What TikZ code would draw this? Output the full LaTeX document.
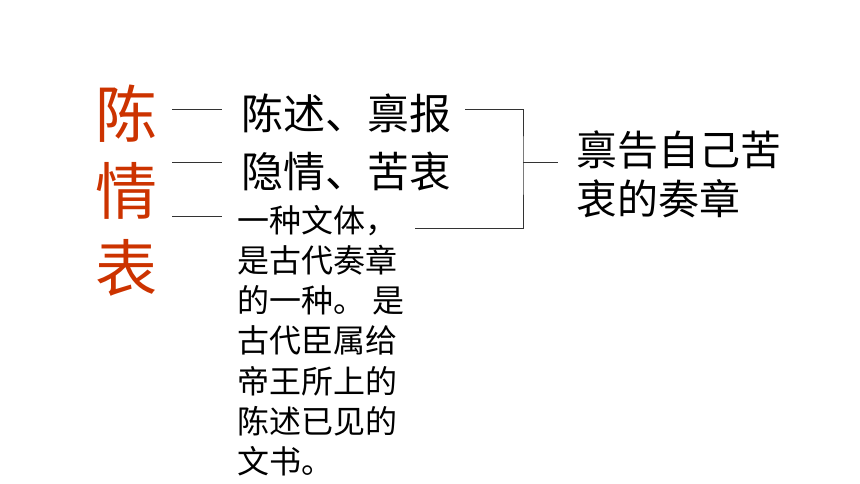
\documentclass[tikz,border=0pt]{standalone}
\usepackage{fontspec}
\setmainfont{Noto Sans CJK SC}
\usepackage{xcolor}
\usetikzlibrary{positioning}
\definecolor{titlered}{RGB}{204,51,0}

\begin{document}
\begin{tikzpicture}[x=1pt,y=-1pt,node distance=77pt,thin,
                    title node/.style={inner sep=0pt,text=titlered,font=\fontsize{62}{62}\selectfont},
                    item node/.style={inner sep=0pt,anchor=west,font=\fontsize{42}{42}\selectfont},
                    note node/.style={inner sep=0pt,anchor=north west,align=left,font=\fontsize{32}{40.2}\selectfont},
                    link/.style={draw=black!80,line width=0.9pt}]
  \useasboundingbox (0,0) rectangle (860,484);

  \node[title node] (chen) at (126,114) {陈};
  \node[title node] (qing) [below of=chen] {情};
  \node[title node] (biao) [below of=qing] {表};

  \node[item node] (1) at (241,113) {陈述、禀报};
  \node[item node] (2) at (241,171) {隐情、苦衷};
  \node[note node] (3) at (237,205) {一种文体，\\是古代奏章\\的一种。 是\\古代臣属给\\帝王所上的\\陈述已见的\\文书。};
  \node[note node,font=\fontsize{41}{49}\selectfont] (4) at (576,130) {禀告自己苦\\衷的奏章};

  % short dashes on the left
  \coordinate (l1) at (172,109);
  \coordinate (l2) at (172,162);
  \coordinate (l3) at (172,216);
  \path[link]
    (l1) edge ++(50,0)
    (l2) edge ++(50,0)
    (l3) edge ++(50,0);

  % bracket
  \coordinate (top) at (465,109);
  \coordinate (bot) at (415,228);
  \coordinate (join) at (523,162);
  \draw[link] (top) -| (join) |- (bot);
  \draw[link] (join) -- ++(35,0);
\end{tikzpicture}
\end{document}
